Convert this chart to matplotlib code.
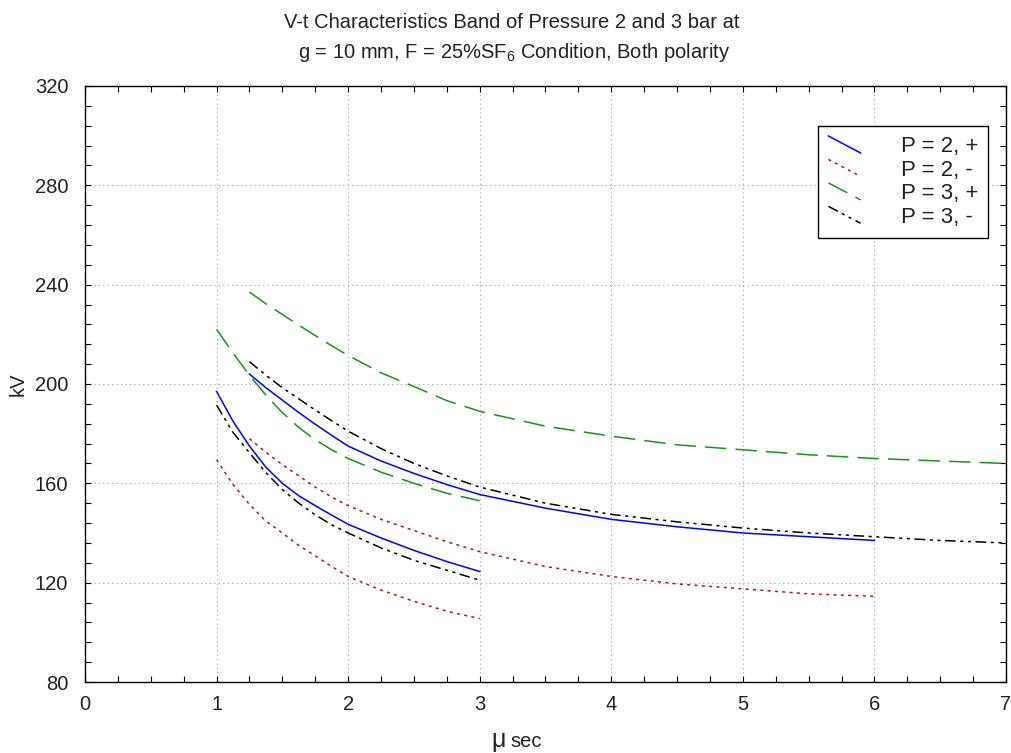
import matplotlib
matplotlib.use("Agg")
import matplotlib.pyplot as plt
from matplotlib.lines import Line2D
from matplotlib.legend_handler import HandlerBase
from matplotlib.ticker import MultipleLocator

plt.rcParams['font.family'] = ['Liberation Sans', 'DejaVu Sans']

# V-t characteristic bands (upper and lower bound of each band); time in microseconds, voltage in kV
t_short = [1, 1.125, 1.25, 1.375, 1.5, 1.625, 1.75, 1.875, 2, 2.25, 2.5, 2.75, 3]
t_long6 = [1.25, 1.375, 1.5, 1.625, 1.75, 1.875, 2, 2.25, 2.5, 2.75, 3, 3.5, 4, 4.5, 5, 5.5, 6]
t_long7 = [1.25, 1.375, 1.5, 1.625, 1.75, 1.875, 2, 2.25, 2.5, 2.75, 3, 3.5, 4, 4.5, 5, 5.5, 6, 6.5, 7]

v_p2pos_upper = [204, 198.5, 193.5, 188.5, 183.8, 179.3, 175, 169, 164, 159.5, 155.5,
                 150, 145.5, 142.5, 140, 138.5, 137]
v_p2pos_lower = [197, 185, 175, 166.5, 160, 155, 151, 147.2, 143.5, 138, 133, 128.5, 124.5]

v_p2neg_upper = [178, 172.5, 167.5, 163, 158.5, 154.5, 151, 145.5, 141, 136.5, 132.5,
                 126.5, 122.5, 119.5, 117.5, 115.5, 114.5]
v_p2neg_lower = [169.5, 159.5, 151.5, 144.8, 140, 135, 130.8, 126.5, 122.5, 117, 112.5, 108.5, 105.5]

v_p3pos_upper = [237, 232.3, 228, 223.7, 219.5, 215.4, 211.5, 204.5, 199, 193.3, 189,
                 183, 179, 175.5, 173.5, 171.5, 170, 169, 168]
v_p3pos_lower = [222, 212.5, 203.5, 195.5, 188.5, 182.5, 177.5, 173.5, 170, 164.5, 160, 156, 153]

v_p3neg_upper = [209, 203.5, 198.5, 194, 189.5, 185.2, 181, 174, 168, 163, 158.5,
                 152, 147.5, 144.5, 142, 140, 138.5, 137, 136]
v_p3neg_lower = [191.5, 180.5, 172.3, 164.3, 157.5, 152, 147.3, 143.3, 140, 134, 129, 125, 121]

series_labels = ["P = 2, +", "P = 2, -", "P = 3, +", "P = 3, -"]

x_ticks = [0, 1, 2, 3, 4, 5, 6, 7]
y_ticks = [80, 120, 160, 200, 240, 280, 320]

title_line1 = "V-t Characteristics Band of Pressure 2 and 3 bar at"
title_line2 = r"g = 10 mm, F = 25%SF$_\mathregular{6}$ Condition, Both polarity"

FS = 14.5
TEXT_COLOR = '#222222'


class DiagonalLineHandler(HandlerBase):
    """Legend key drawn as a sloping line from upper left to lower right."""
    def create_artists(self, legend, orig_handle, xdescent, ydescent,
                       width, height, fontsize, trans):
        line = Line2D([-xdescent, -xdescent + width],
                      [-ydescent + height, -ydescent])
        line.update_from(orig_handle)
        line.set_transform(trans)
        return [line]


W, H = 1012, 753
fig = plt.figure(figsize=(W / 100, H / 100), dpi=100)
ax = fig.add_axes([85 / W, 1 - 682 / H, (1006 - 85) / W, (682 - 86) / H])

styles = [
    dict(color='#0000ff', linestyle='-', linewidth=1.1),
    dict(color='#a52020', linestyle=(0, (2, 2.8)), linewidth=1.1),
    dict(color='#179517', linestyle=(0, (14, 6)), linewidth=1.1),
    dict(color='#000000', linestyle=(0, (7, 3, 2, 3, 2, 3)), linewidth=1.1),
]
bands = [
    (t_long6, v_p2pos_upper, t_short, v_p2pos_lower),
    (t_long6, v_p2neg_upper, t_short, v_p2neg_lower),
    (t_long7, v_p3pos_upper, t_short, v_p3pos_lower),
    (t_long7, v_p3neg_upper, t_short, v_p3neg_lower),
]

handles = []
for (tu, vu, tl, vl), st, lab in zip(bands, styles, series_labels):
    h, = ax.plot(tu, vu, label=lab, **st)
    ax.plot(tl, vl, **st)
    handles.append(h)

ax.set_xlim(0, 7)
ax.set_ylim(80, 320)
ax.set_xticks(x_ticks)
ax.set_yticks(y_ticks)
ax.xaxis.set_minor_locator(MultipleLocator(0.25))
ax.yaxis.set_minor_locator(MultipleLocator(8))
ax.tick_params(which='both', direction='in', top=True, right=True,
               labelsize=FS, color='black', labelcolor=TEXT_COLOR)
ax.tick_params(which='major', length=4, width=0.8)
ax.tick_params(which='minor', length=4, width=0.8)
ax.tick_params(axis='x', pad=9)
ax.tick_params(axis='y', pad=12)
ax.grid(True, which='major', linestyle=(0, (1, 3)), color='#a0a0a0', linewidth=0.8)
for sp in ax.spines.values():
    sp.set_linewidth(1.0)

ax.set_ylabel("kV", fontsize=FS, color=TEXT_COLOR)
ax.yaxis.set_label_coords(-0.062, 0.5)

fig.text(506 / W, 1 - 747 / H, "\u03bc", fontsize=18, ha='right', va='baseline',
         color=TEXT_COLOR)
fig.text(510 / W, 1 - 747 / H, "sec", fontsize=FS, ha='left', va='baseline',
         color=TEXT_COLOR)

fig.text(512 / W, 1 - 22 / H, title_line1, fontsize=FS, ha='center', va='center',
         color=TEXT_COLOR)
fig.text(514 / W, 1 - 52 / H, title_line2, fontsize=FS, ha='center', va='center',
         color=TEXT_COLOR)

leg = ax.legend(handles=handles, labels=series_labels, loc='upper right',
                bbox_to_anchor=((988 - 85) / (1006 - 85), (682 - 126) / (682 - 86)),
                fontsize=16, frameon=True, fancybox=False, framealpha=1,
                edgecolor='black', handlelength=1.45, handleheight=0.8,
                handletextpad=1.8, labelspacing=0.1, borderpad=0.45,
                borderaxespad=0, handler_map={Line2D: DiagonalLineHandler()})
leg.get_frame().set_linewidth(1.0)
for txt in leg.get_texts():
    txt.set_color(TEXT_COLOR)

fig.savefig("out.png", dpi=100)
